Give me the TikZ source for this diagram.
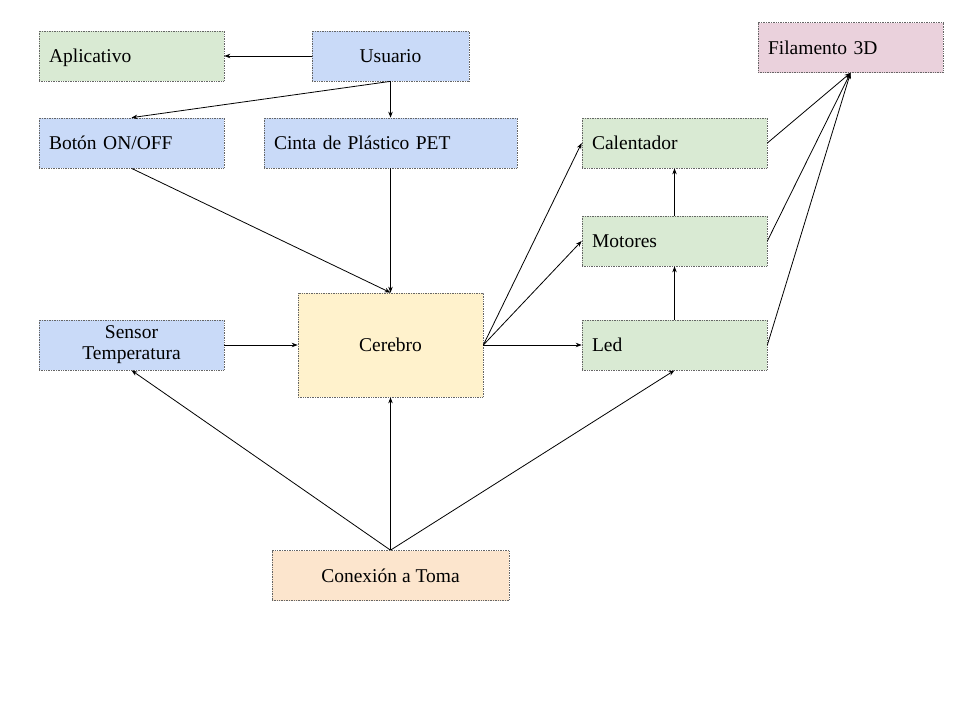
\documentclass[tikz,border=0pt]{standalone}
\usepackage{fontspec}
\setmainfont{Liberation Serif}
\usepackage{tikz}
\usetikzlibrary{positioning,arrows.meta}

\definecolor{boxgreen}{HTML}{D9EAD3}
\definecolor{boxblue}{HTML}{C9DAF8}
\definecolor{boxpink}{HTML}{EAD1DC}
\definecolor{boxyellow}{HTML}{FFF2CC}
\definecolor{boxorange}{HTML}{FCE5CD}

\begin{document}
\begin{tikzpicture}[
  x=1pt, y=-1pt,
  box/.style={
    rectangle, draw=black!60, densely dotted, line width=0.7pt,
    minimum height=50pt, inner xsep=10pt, inner ysep=0pt,
    font=\fontsize{19.5}{21}\selectfont
  },
  lbox/.style={box, text width=#1, align=left, text height=13pt, text depth=0pt},
  cbox/.style={box, minimum width=#1, align=center},
  arrow/.style={-{Stealth[length=6pt,width=4.5pt]}, line width=0.8pt, black}
]
\useasboundingbox (0,0) rectangle (960,720);

% === Top row ===
\node[lbox=165, fill=boxgreen] (apli) at (131.5,56) {Aplicativo};
\node[cbox=157, fill=boxblue] (usuario) at (390.5,56) {Usuario};
\node[lbox=165, fill=boxpink] (filamento) at (850.5,47.5) {Filamento 3D};

% === Inputs ===
\node[lbox=165, fill=boxblue] (boton) at (131.5,143) {Botón ON/OFF};
\node[lbox=233, fill=boxblue] (cinta) at (390.5,143) {Cinta de Plástico PET};
\node[cbox=185, fill=boxblue, text width=165] (sensor) at (131.5,345) {Sensor\\Temperatura};

% === Brain ===
\node[cbox=185, fill=boxyellow, minimum height=104pt] (cerebro) at (390.5,345) {Cerebro};

% === Outputs ===
\node[lbox=165, fill=boxgreen] (calentador) at (674.5,143) {Calentador};
\node[lbox=165, fill=boxgreen] (motores) at (674.5,241) {Motores};
\node[lbox=165, fill=boxgreen] (led) at (674.5,345) {Led};

% === Power ===
\node[cbox=237, fill=boxorange] (toma) at (390.5,575.5) {Conexión a Toma};

% === User connections ===
\draw[arrow] (usuario) -- (apli);
\draw[arrow] (usuario.south) -- (boton.north);
\draw[arrow] (usuario.south) -- (cinta.north);

% === Into the brain ===
\draw[arrow] (boton.south) -- (cerebro.north);
\draw[arrow] (cinta.south) -- (cerebro.north);
\draw[arrow] (sensor) -- (cerebro);

% === Out of the brain ===
\draw[arrow] (cerebro.east) -- (calentador.west);
\draw[arrow] (cerebro.east) -- (motores.west);
\draw[arrow] (cerebro.east) -- (led.west);
\draw[arrow] (led.north) -- (motores.south);
\draw[arrow] (motores.north) -- (calentador.south);

% === To the filament ===
\draw[arrow] (calentador.east) -- (filamento.south);
\draw[arrow] (motores.east) -- (filamento.south);
\draw[arrow] (led.east) -- (filamento.south);

% === Power lines ===
\draw[arrow] (toma.north) -- (sensor.south);
\draw[arrow] (toma.north) -- (cerebro.south);
\draw[arrow] (toma.north) -- (led.south);

\end{tikzpicture}
\end{document}
